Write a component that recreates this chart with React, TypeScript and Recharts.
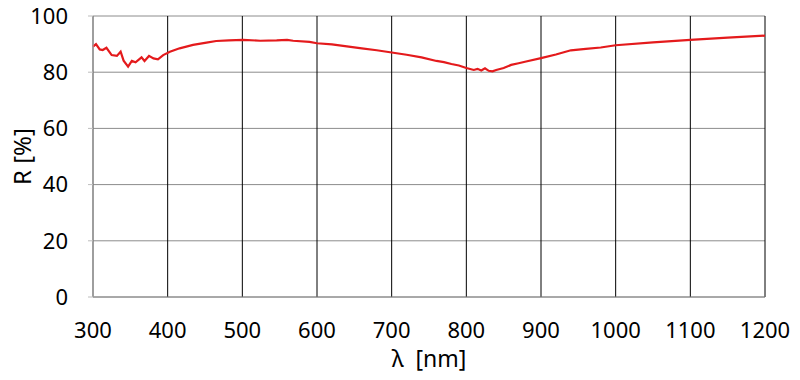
import { LineChart, Line, XAxis, YAxis, CartesianGrid } from 'recharts'

const WAVELENGTHS = [
  300, 304, 309, 313, 318, 325, 332, 337, 341, 347, 352, 357, 365, 369, 375, 381, 387, 394, 403, 416,
  434, 452, 465, 482, 501, 524, 546, 560, 568, 590, 600, 620, 640, 660, 680, 700, 720, 740, 760, 770,
  780, 790, 800, 810, 815, 820, 825, 830, 835, 840, 850, 860, 870, 880, 900, 920, 940, 960, 980, 1000,
  1050, 1100, 1150, 1200,
]

const REFLECTANCE = [
  89.1, 90.0, 88.1, 87.9, 88.7, 86.1, 85.8, 87.3, 84.1, 82.0, 84.0, 83.5, 85.3, 84.0, 85.8, 84.9, 84.6, 86.1, 87.3, 88.5,
  89.7, 90.5, 91.1, 91.3, 91.5, 91.2, 91.3, 91.5, 91.2, 90.8, 90.3, 89.9, 89.2, 88.5, 87.8, 87.0, 86.2, 85.3, 84.0, 83.6,
  82.9, 82.4, 81.5, 80.8, 81.2, 80.6, 81.4, 80.5, 80.3, 80.8, 81.5, 82.6, 83.2, 83.8, 85.0, 86.3, 87.8, 88.3, 88.8, 89.6,
  90.6, 91.5, 92.3, 93.0,
]

const X_TICKS = [300, 400, 500, 600, 700, 800, 900, 1000, 1100, 1200]
const Y_TICKS = [0, 20, 40, 60, 80, 100]

const FONT = '"Noto Sans", sans-serif'

export default function App() {
  const data = WAVELENGTHS.map((w, i) => ({ w, r: REFLECTANCE[i] }))

  return (
    <div style={{ position: 'absolute', left: 0, top: 0, width: 800, height: 380, background: '#fff' }}>
      <LineChart
        width={800}
        height={380}
        data={data}
        margin={{ top: 16, right: 35, bottom: 0, left: 0 }}
        style={{ fontFamily: FONT }}
      >
        <CartesianGrid vertical={false} stroke="#8c8c8c" />
        <CartesianGrid horizontal={false} stroke="#000" />
        <XAxis
          dataKey="w"
          type="number"
          domain={[300, 1200]}
          ticks={X_TICKS}
          height={83}
          axisLine={{ stroke: '#8c8c8c' }}
          tickLine={false}
          tickMargin={19}
          tick={{ fontSize: 22, fill: '#000' }}
          label={{
            value: 'λ\u00a0\u00a0[nm]',
            position: 'insideBottom',
            offset: 13,
            style: { fontSize: 23, fill: '#000' },
          }}
        />
        <YAxis
          type="number"
          domain={[0, 100]}
          ticks={Y_TICKS}
          width={93}
          axisLine={{ stroke: '#bdbdbd' }}
          tickLine={{ stroke: '#bdbdbd' }}
          tickSize={5}
          tickMargin={20}
          tick={{ fontSize: 22, fill: '#000' }}
          label={{
            value: 'R [%]',
            angle: -90,
            position: 'insideLeft',
            offset: 22,
            style: { fontSize: 24, fill: '#000', textAnchor: 'middle' },
          }}
        />
        <Line
          type="linear"
          dataKey="r"
          stroke="#e41a1c"
          strokeWidth={2.2}
          dot={false}
          isAnimationActive={false}
        />
      </LineChart>
    </div>
  )
}
